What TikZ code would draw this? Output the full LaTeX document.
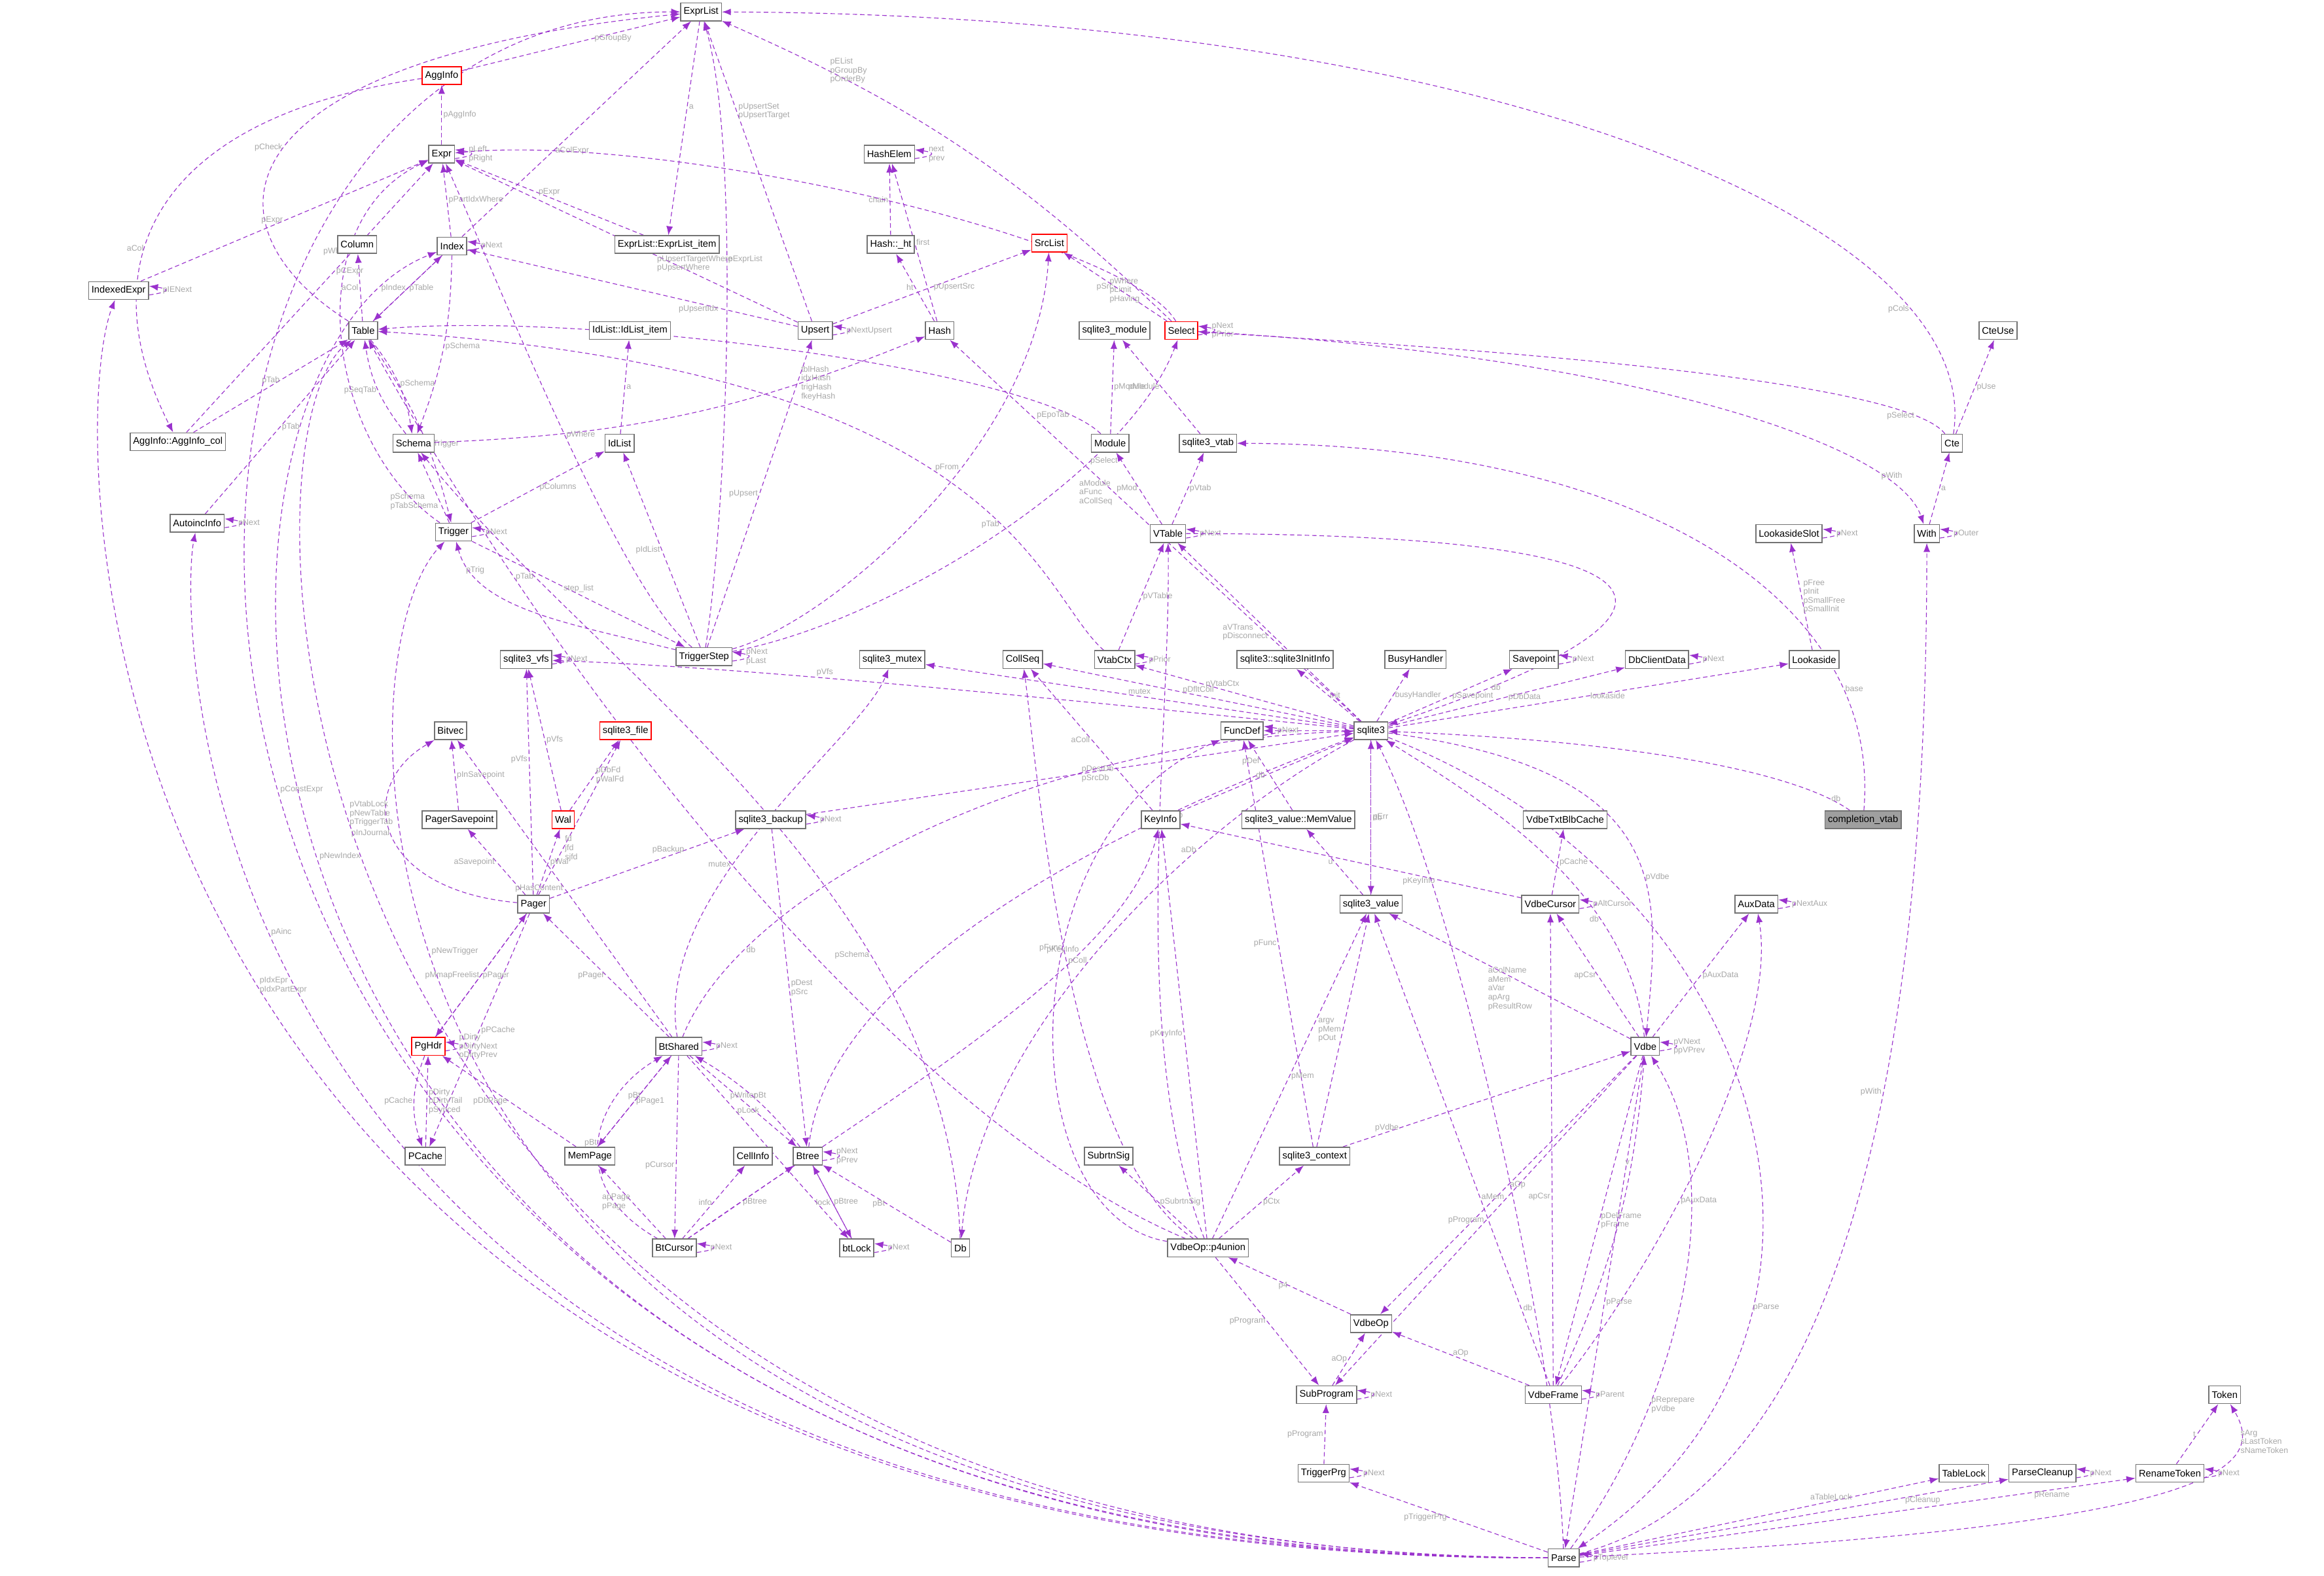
\documentclass[tikz,border=0pt]{standalone}
\usepackage{fontspec}
\setmainfont{Liberation Sans}
\usetikzlibrary{arrows.meta}
\pgfdeclarelayer{bg}
\pgfdeclarelayer{edges}
\pgfsetlayers{bg,edges,main}
\definecolor{ec}{HTML}{9A32CD}
\definecolor{lg}{HTML}{A8A8A8}
\tikzset{
 nd/.style={draw=gray!90!black,line width=0.7pt,fill=white,inner sep=2pt,minimum height=12pt,font=\fontsize{6.5}{7}\selectfont},
 rd/.style={nd,draw=red},
 e/.style={draw=ec,line width=0.5pt,dash pattern=on 3pt off 2pt,-{Latex[length=6pt,width=4.5pt]}},
 lbl/.style={text=lg,font=\fontsize{5.5}{6}\selectfont,align=left,inner sep=1pt},
}
\newcommand\sloop[2]{\draw[e] ([yshift=-3pt]#1.east) .. controls +(14,-2) and +(14,2) .. ([yshift=3pt]#1.east) node[lbl,right,xshift=8pt,yshift=-3pt]{#2};}
\begin{document}
\begin{tikzpicture}[x=1pt,y=-1pt]
\useasboundingbox (0,0) rectangle (1568,1063);
\begin{pgfonlayer}{bg}
\fill[white] (0,0) rectangle (1568,1063);
\end{pgfonlayer}
% nodes
\node[nd] (ExprList) at (473,8) {ExprList};
\node[rd] (AggInfo) at (298,51) {AggInfo};
\node[nd] (Expr) at (298,104) {Expr};
\node[nd] (HashElem) at (600,104) {HashElem};
\node[rd] (SrcList) at (708,164) {SrcList};
\node[nd] (Column) at (241,165) {Column};
\node[nd] (Index) at (305,166) {Index};
\node[nd] (ExprListItem) at (450,165) {ExprList::ExprList\_item};
\node[nd] (HashHt) at (601,165) {Hash::\_ht};
\node[nd] (IndexedExpr) at (80,196) {IndexedExpr};
\node[nd] (Table) at (245,223) {Table};
\node[nd] (IdListItem) at (425,223) {IdList::IdList\_item};
\node[nd] (Upsert) at (550,223) {Upsert};
\node[nd] (Hash) at (634,223) {Hash};
\node[nd] (Smodule) at (752,223) {sqlite3\_module};
\node[rd] (Select) at (797,223) {Select};
\node[nd] (CteUse) at (1348,223) {CteUse};
\node[nd] (AggCol) at (120,298) {AggInfo::AggInfo\_col};
\node[nd] (Schema) at (279,299) {Schema};
\node[nd] (IdList) at (418,299) {IdList};
\node[nd] (Module) at (749,299) {Module};
\node[nd] (Svtab) at (815,299) {sqlite3\_vtab};
\node[nd] (Cte) at (1317,299) {Cte};
\node[nd] (AutoincInfo) at (133,353) {AutoincInfo};
\node[nd] (Trigger) at (306,359) {Trigger};
\node[nd] (VTable) at (788,360) {VTable};
\node[nd] (With) at (1300,360) {With};
\node[nd] (LookasideSlot) at (1207,360) {LookasideSlot};
\node[nd] (TriggerStep) at (475,443) {TriggerStep};
\node[nd] (Svfs) at (355,445) {sqlite3\_vfs};
\node[nd] (Smutex) at (602,445) {sqlite3\_mutex};
\node[nd] (CollSeq) at (690,445) {CollSeq};
\node[nd] (VtabCtx) at (752,445) {VtabCtx};
\node[nd] (InitInfo) at (867,445) {sqlite3::sqlite3InitInfo};
\node[nd] (BusyHandler) at (955,445) {BusyHandler};
\node[nd] (Savepoint) at (1035,445) {Savepoint};
\node[nd] (DbClientData) at (1118,445) {DbClientData};
\node[nd] (Lookaside) at (1224,445) {Lookaside};
\node[nd] (Bitvec) at (304,493) {Bitvec};
\node[rd] (Sfile) at (422,493) {sqlite3\_file};
\node[nd] (FuncDef) at (838,493) {FuncDef};
\node[nd] (sqlite3) at (925,493) {sqlite3};
\node[nd] (Sbackup) at (520,553) {sqlite3\_backup};
\node[nd] (PagerSavepoint) at (310,553) {PagerSavepoint};
\node[rd] (Wal) at (380,553) {Wal};
\node[nd] (KeyInfo) at (783,553) {KeyInfo};
\node[nd] (MemValue) at (876,553) {sqlite3\_value::MemValue};
\node[nd] (TxtCache) at (1056,553) {VdbeTxtBlbCache};
\node[nd,fill=gray!75] (completion) at (1257,553) {completion\_vtab};
\node[nd] (Pager) at (360,610) {Pager};
\node[nd] (Svalue) at (925,610) {sqlite3\_value};
\node[nd] (VdbeCursor) at (1046,610) {VdbeCursor};
\node[nd] (AuxData) at (1185,610) {AuxData};
\node[rd] (PgHdr) at (289,706) {PgHdr};
\node[nd] (BtShared) at (458,706) {BtShared};
\node[nd] (Vdbe) at (1110,706) {Vdbe};
\node[nd] (PCache) at (287,780) {PCache};
\node[nd] (MemPage) at (398,780) {MemPage};
\node[nd] (CellInfo) at (508,780) {CellInfo};
\node[nd] (Btree) at (545,780) {Btree};
\node[nd] (SubrtnSig) at (748,780) {SubrtnSig};
\node[nd] (Scontext) at (887,780) {sqlite3\_context};
\node[nd] (BtCursor) at (455,842) {BtCursor};
\node[nd] (btLock) at (578,842) {btLock};
\node[nd] (Db) at (648,842) {Db};
\node[nd] (P4) at (815,842) {VdbeOp::p4union};
\node[nd] (VdbeOp) at (925,893) {VdbeOp};
\node[nd] (SubProgram) at (895,941) {SubProgram};
\node[nd] (VdbeFrame) at (1048,941) {VdbeFrame};
\node[nd] (Token) at (1501,941) {Token};
\node[nd] (TriggerPrg) at (893,994) {TriggerPrg};
\node[nd] (TableLock) at (1325,994) {TableLock};
\node[nd] (ParseCleanup) at (1378,994) {ParseCleanup};
\node[nd] (RenameToken) at (1464,994) {RenameToken};
\node[nd] (Parse) at (1055,1051) {Parse};
% edges
\begin{pgfonlayer}{edges}
\draw[e] (Select) to[bend right=10] node[lbl,pos=0.8,right]{pEList\\pGroupBy\\pOrderBy} (ExprList);
\draw[e] (AggInfo) -- node[lbl,pos=0.6,right]{pGroupBy} (ExprList);
\draw[e] (Expr) -- node[lbl,right]{pAggInfo} (AggInfo);
\sloop{Expr}{pLeft\\pRight}
\draw[e] (ExprList) -- node[lbl,right,pos=0.4]{a} (ExprListItem);
\draw[e] (ExprListItem) -- node[lbl,above]{pExpr} (Expr);
\draw[e] (Index) -- node[lbl,right,pos=0.4]{aColExpr} (ExprList);
\draw[e] (Index) -- node[lbl,right]{pPartIdxWhere} (Expr);
\sloop{Index}{pNext}
\draw[e] (Index) -- node[lbl,right]{pTable} (Table);
\draw[e] (Index) to[bend left=10] node[lbl,right]{pSchema} (Schema);
\draw[e] (Table) .. controls (130,150) and (150,40) .. node[lbl,left,pos=0.5]{pCheck} (ExprList);
\draw[e] (Table) -- node[lbl,left]{aCol} (Column);
\draw[e] (Table) -- node[lbl,left]{pIndex} (Index);
\draw[e] (Table) to[bend left=15] node[lbl,right]{pSchema} (Schema);
\draw[e] (Table) to[bend left=10] node[lbl,right,pos=0.6]{pTrigger} (Trigger);
\draw[e] (IndexedExpr) -- node[lbl,left]{pExpr} (Expr);
\sloop{IndexedExpr}{pIENext}
\draw[e] (AggInfo) .. controls (100,80) and (60,180) .. node[lbl,left,pos=0.6]{aCol} (AggCol);
\draw[e] (AggCol) -- node[lbl,right,pos=0.6]{pCExpr} (Expr);
\draw[e] (AggCol) -- node[lbl,above]{pTab} (Table);
\draw[e] (Schema) to[bend left=15] node[lbl,left]{pSeqTab} (Table);
\draw[e] (Schema) to[bend right=10] node[lbl,right,pos=0.75]{tblHash\\idxHash\\trigHash\\fkeyHash} (Hash);
\draw[e] (Upsert) -- node[lbl,right,pos=0.7]{pUpsertSet\\pUpsertTarget} (ExprList);
\draw[e] (Upsert) -- node[lbl,above,pos=0.3]{pUpsertTargetWhere\\pUpsertWhere} (Expr);
\draw[e] (Upsert) -- node[lbl,below,pos=0.3]{pUpsertIdx} (Index);
\sloop{Upsert}{pNextUpsert}
\draw[e] (Upsert) -- node[lbl,right]{pUpsertSrc} (SrcList);
\sloop{HashElem}{next\\prev}
\draw[e] (HashHt) -- node[lbl,left]{chain} (HashElem);
\draw[e] (Hash) -- node[lbl,right]{first} (HashElem);
\draw[e] (Hash) -- node[lbl,left]{ht} (HashHt);
\draw[e] (Select) .. controls (760,160) and (450,90) .. node[lbl,left,pos=0.12]{pWhere\\pLimit\\pHaving} (Expr);
\draw[e] (Select) -- node[lbl,left]{pSrc} (SrcList);
\sloop{Select}{pNext\\pPrior}
\draw[e] (Select) .. controls (1100,240) and (1280,300) .. node[lbl,right,pos=0.8]{pWith} (With);
\draw[e] (Cte) .. controls (1280,250) and (900,230) .. node[lbl,left,pos=0.1]{pSelect} (Select);
\draw[e] (Cte) .. controls (1340,150) and (1000,10) .. node[lbl,left,pos=0.2]{pCols} (ExprList);
\draw[e] (Cte) -- node[lbl,right]{pUse} (CteUse);
\draw[e] (With) -- node[lbl,right]{a} (Cte);
\sloop{With}{pOuter}
\draw[e] (Module) -- node[lbl,right]{pModule} (Smodule);
\draw[e] (Module) .. controls (700,250) and (400,210) .. node[lbl,left,pos=0.1]{pEpoTab} (Table);
\draw[e] (Svtab) -- node[lbl,left]{pModule} (Smodule);
\draw[e] (VTable) -- node[lbl,right]{pVtab} (Svtab);
\draw[e] (VTable) -- node[lbl,left]{pMod} (Module);
\sloop{VTable}{pNext}
\draw[e] (VTable) .. controls (1100,360) and (1200,400) .. node[lbl,right,pos=0.9]{db} (sqlite3);
\draw[e] (VtabCtx) -- node[lbl,right]{pVTable} (VTable);
\draw[e] (VtabCtx) .. controls (700,400) and (680,250) .. node[lbl,left,pos=0.4]{pTab} (Table);
\sloop{VtabCtx}{pPrior}
\sloop{Trigger}{pNext}
\draw[e] (Trigger) -- node[lbl,left,pos=0.3]{pSchema\\pTabSchema} (Schema);
\draw[e] (Trigger) -- node[lbl,right]{pColumns} (IdList);
\draw[e] (Trigger) .. controls (220,300) and (200,150) .. node[lbl,left,pos=0.7]{pWhen} (Expr);
\draw[e] (Trigger) -- node[lbl,above]{step\_list} (TriggerStep);
\draw[e] (TriggerStep) .. controls (380,420) and (320,410) .. node[lbl,above,pos=0.8]{pTrig} (Trigger);
\draw[e] (TriggerStep) -- node[lbl,left]{pIdList} (IdList);
\draw[e] (TriggerStep) -- node[lbl,left]{pUpsert} (Upsert);
\draw[e] (TriggerStep) .. controls (560,420) and (700,300) .. node[lbl,left,pos=0.6]{pFrom} (SrcList);
\draw[e] (TriggerStep) .. controls (600,420) and (760,320) .. node[lbl,right,pos=0.7]{pSelect} (Select);
\draw[e] (TriggerStep) .. controls (420,400) and (340,200) .. node[lbl,right,pos=0.5]{pWhere} (Expr);
\draw[e] (TriggerStep) .. controls (490,350) and (500,100) .. node[lbl,right,pos=0.6]{pExprList} (ExprList);
\sloop{TriggerStep}{pNext\\pLast}
\draw[e] (IdList) -- node[lbl,right]{a} (IdListItem);
\draw[e] (AutoincInfo) -- node[lbl,right]{pTab} (Table);
\sloop{AutoincInfo}{pNext}
\draw[e] (sqlite3) .. controls (700,470) and (500,450) .. node[lbl,above,pos=0.6]{pVfs} (Svfs);
\sloop{Svfs}{pNext}
\draw[e] (sqlite3) -- node[lbl,above,pos=0.5]{mutex} (Smutex);
\draw[e] (sqlite3) -- node[lbl,above,pos=0.5]{pDfltColl} (CollSeq);
\draw[e] (sqlite3) -- node[lbl,above,pos=0.6]{pVtabCtx} (VtabCtx);
\draw[e] (sqlite3) -- node[lbl,right]{init} (InitInfo);
\draw[e] (sqlite3) -- node[lbl,right]{busyHandler} (BusyHandler);
\draw[e] (sqlite3) -- node[lbl,right]{pSavepoint} (Savepoint);
\sloop{Savepoint}{pNext}
\draw[e] (sqlite3) -- node[lbl,right]{pDbData} (DbClientData);
\sloop{DbClientData}{pNext}
\draw[e] (sqlite3) -- node[lbl,right]{lookaside} (Lookaside);
\draw[e] (Lookaside) -- node[lbl,right]{pFree\\pInit\\pSmallFree\\pSmallInit} (LookasideSlot);
\sloop{LookasideSlot}{pNext}
\draw[e] (sqlite3) -- node[lbl,left,pos=0.6]{aModule\\aFunc\\aCollSeq} (Hash);
\draw[e] (sqlite3) -- node[lbl,left,pos=0.5]{aVTrans\\pDisconnect} (VTable);
\draw[e] (sqlite3) -- (FuncDef);
\sloop{FuncDef}{pNext}
\draw[e] (sqlite3) .. controls (1130,520) and (1120,600) .. node[lbl,right,pos=0.6]{pVdbe} (Vdbe);
\draw[e] (sqlite3) -- node[lbl,right]{pErr} (Svalue);
\draw[e] (sqlite3) .. controls (800,560) and (660,700) .. node[lbl,left,pos=0.3]{aDb} (Db);
\draw[e] (sqlite3) .. controls (1200,600) and (1280,900) .. node[lbl,right,pos=0.7]{pParse} (Parse);
\draw[e] (Db) -- node[lbl,left]{pBt} (Btree);
\draw[e] (Db) .. controls (640,600) and (400,450) .. node[lbl,left,pos=0.3]{pSchema} (Schema);
\draw[e] (completion) .. controls (1210,520) and (1100,500) .. node[lbl,right,pos=0.1]{db} (sqlite3);
\draw[e] (completion) .. controls (1270,400) and (1100,300) .. node[lbl,right,pos=0.2]{base} (Svtab);
\draw[e] (Pager) -- node[lbl,left,pos=0.6]{pVfs} (Svfs);
\draw[e] (Pager) -- node[lbl,right,pos=0.3]{fd\\jfd\\sjfd} (Sfile);
\draw[e] (Pager) -- node[lbl,right]{pWal} (Wal);
\draw[e] (Wal) -- node[lbl,right]{pVfs} (Svfs);
\draw[e] (Wal) -- node[lbl,right]{pDbFd\\pWalFd} (Sfile);
\draw[e] (Pager) .. controls (250,600) and (240,530) .. node[lbl,left]{pInJournal} (Bitvec);
\draw[e] (PagerSavepoint) -- node[lbl,right]{pInSavepoint} (Bitvec);
\draw[e] (Pager) -- node[lbl,left]{aSavepoint} (PagerSavepoint);
\draw[e] (Pager) -- node[lbl,left]{pMmapFreelist} (PgHdr);
\draw[e] (Pager) -- node[lbl,right]{pPCache} (PCache);
\draw[e] (Pager) -- node[lbl,left,pos=0.7]{pBackup} (Sbackup);
\draw[e] (PgHdr) -- node[lbl,right]{pPager} (Pager);
\sloop{PgHdr}{pDirty\\pDirtyNext\\pDirtyPrev}
\draw[e] (PgHdr) to[bend right=20] node[lbl,left]{pCache} (PCache);
\draw[e] (PCache) -- node[lbl,right]{pDirty\\pDirtyTail\\pSynced} (PgHdr);
\draw[e] (Sbackup) -- node[lbl,right,pos=0.5]{pDestDb\\pSrcDb} (sqlite3);
\sloop{Sbackup}{pNext}
\draw[e] (Sbackup) -- node[lbl,right]{pDest\\pSrc} (Btree);
\draw[e] (BtShared) -- node[lbl,left]{pPager} (Pager);
\draw[e] (BtShared) .. controls (500,600) and (700,500) .. node[lbl,right,pos=0.2]{db} (sqlite3);
\draw[e] (BtShared) -- node[lbl,left]{pHasContent} (Bitvec);
\draw[e] (BtShared) .. controls (440,600) and (580,500) .. node[lbl,left,pos=0.4]{mutex} (Smutex);
\sloop{BtShared}{pNext}
\draw[e] (BtShared) -- node[lbl,right]{pPage1} (MemPage);
\draw[e] (BtShared) -- node[lbl,left,pos=0.6]{pCursor} (BtCursor);
\draw[e] (BtShared) -- node[lbl,above]{pWriter} (Btree);
\draw[e] (BtShared) -- node[lbl,right,pos=0.3]{pLock} (btLock);
\draw[e] (MemPage) -- node[lbl,above]{pBt} (BtShared);
\draw[e] (MemPage) -- node[lbl,left]{pDbPage} (PgHdr);
\draw[e] (Btree) to[bend right=10] node[lbl,right]{pBt} (BtShared);
\draw[e] (Btree) .. controls (560,640) and (800,540) .. (sqlite3);
\sloop{Btree}{pNext\\pPrev}
\draw[e] (Btree) -- node[lbl,left]{lock} (btLock);
\draw[e] (btLock) -- node[lbl,right]{pBtree} (Btree);
\sloop{btLock}{pNext}
\draw[e] (BtCursor) -- node[lbl,right]{pBtree} (Btree);
\draw[e] (BtCursor) .. controls (380,800) and (400,740) .. node[lbl,left]{pBt} (BtShared);
\draw[e] (BtCursor) -- node[lbl,left]{apPage\\pPage} (MemPage);
\draw[e] (BtCursor) -- node[lbl,left]{info} (CellInfo);
\draw[e] (BtCursor) .. controls (600,740) and (760,650) .. node[lbl,left,pos=0.7]{pKeyInfo} (KeyInfo);
\sloop{BtCursor}{pNext}
\draw[e] (KeyInfo) -- node[lbl,left]{db} (sqlite3);
\draw[e] (KeyInfo) -- node[lbl,left]{aColl} (CollSeq);
\draw[e] (Svalue) -- node[lbl,right]{db} (sqlite3);
\draw[e] (Svalue) -- node[lbl,left]{u} (MemValue);
\draw[e] (MemValue) -- node[lbl,left,pos=0.7]{pDef} (FuncDef);
\draw[e] (VdbeCursor) -- node[lbl,below,pos=0.3]{pKeyInfo} (KeyInfo);
\draw[e] (VdbeCursor) -- node[lbl,right]{pCache} (TxtCache);
\sloop{VdbeCursor}{pAltCursor}
\sloop{AuxData}{pNextAux}
\draw[e] (Vdbe) .. controls (1100,600) and (1000,540) .. node[lbl,left,pos=0.3]{db} (sqlite3);
\draw[e] (Vdbe) -- node[lbl,left,pos=0.4]{aColName\\aMem\\aVar\\apArg\\pResultRow} (Svalue);
\draw[e] (Vdbe) -- node[lbl,left]{apCsr} (VdbeCursor);
\draw[e] (Vdbe) -- node[lbl,right]{pAuxData} (AuxData);
\sloop{Vdbe}{pVNext\\ppVPrev}
\draw[e] (Vdbe) -- node[lbl,right]{aOp} (VdbeOp);
\draw[e] (Vdbe) -- node[lbl,right]{pDelFrame\\pFrame} (VdbeFrame);
\draw[e] (Vdbe) -- node[lbl,left,pos=0.5]{pProgram} (SubProgram);
\draw[e] (Vdbe) -- node[lbl,right]{pParse} (Parse);
\draw[e] (Scontext) -- node[lbl,left]{argv\\pMem\\pOut} (Svalue);
\draw[e] (Scontext) -- node[lbl,left,pos=0.2]{pVdbe} (Vdbe);
\draw[e] (Scontext) -- node[lbl,left]{pFunc} (FuncDef);
\draw[e] (P4) .. controls (680,820) and (680,560) .. node[lbl,left,pos=0.6]{pFunc} (FuncDef);
\draw[e] (P4) .. controls (720,780) and (700,520) .. node[lbl,right,pos=0.5]{pColl} (CollSeq);
\draw[e] (P4) -- node[lbl,left]{pKeyInfo} (KeyInfo);
\draw[e] (P4) -- node[lbl,right]{pMem} (Svalue);
\draw[e] (P4) .. controls (760,700) and (790,500) .. node[lbl,right,pos=0.6]{pVtab} (VTable);
\draw[e] (P4) .. controls (620,760) and (400,500) .. node[lbl,right,pos=0.8]{pTab} (Table);
\draw[e] (P4) -- node[lbl,right]{pCtx} (Scontext);
\draw[e] (P4) -- node[lbl,right]{pSubrtnSig} (SubrtnSig);
\draw[e] (P4) -- node[lbl,left]{pProgram} (SubProgram);
\draw[e] (VdbeOp) -- node[lbl,left]{p4} (P4);
\draw[e] (SubProgram) -- node[lbl,left]{aOp} (VdbeOp);
\sloop{SubProgram}{pNext}
\draw[e] (VdbeFrame) to[bend right=10] node[lbl,left,pos=0.7]{v} (Vdbe);
\draw[e] (VdbeFrame) -- node[lbl,above]{aOp} (VdbeOp);
\draw[e] (VdbeFrame) -- node[lbl,right,pos=0.4]{aMem} (Svalue);
\draw[e] (VdbeFrame) -- node[lbl,left,pos=0.4]{apCsr} (VdbeCursor);
\draw[e] (VdbeFrame) .. controls (1120,850) and (1200,700) .. node[lbl,right,pos=0.4]{pAuxData} (AuxData);
\sloop{VdbeFrame}{pParent}
\draw[e] (TriggerPrg) -- node[lbl,left]{pProgram} (SubProgram);
\sloop{TriggerPrg}{pNext}
\draw[e] (Parse) -- node[lbl,left]{pTriggerPrg} (TriggerPrg);
\sloop{Parse}{pToplevel}
\draw[e] (Parse) -- node[lbl,above,pos=0.7]{aTableLock} (TableLock);
\draw[e] (Parse) -- node[lbl,below,pos=0.8]{pCleanup} (ParseCleanup);
\sloop{ParseCleanup}{pNext}
\draw[e] (Parse) -- node[lbl,below,pos=0.85]{pRename} (RenameToken);
\draw[e] (RenameToken) -- node[lbl,left]{t} (Token);
\sloop{RenameToken}{pNext}
\draw[e] (Parse) .. controls (1500,1030) and (1530,990) .. node[lbl,right,pos=0.8]{sArg\\sLastToken\\sNameToken} (Token);
\draw[e] (Parse) .. controls (1250,1000) and (1300,700) .. node[lbl,left,pos=0.6]{pWith} (With);
\draw[e] (Parse) .. controls (1050,900) and (980,600) .. node[lbl,left,pos=0.3]{db} (sqlite3);
\draw[e] (Parse) .. controls (1130,950) and (1170,800) .. node[lbl,right,pos=0.3]{pReprepare\\pVdbe} (Vdbe);
\draw[e] (Parse.west) .. controls (0,1060) and (0,8) .. node[lbl,right,pos=0.5]{pConstExpr} (ExprList.west);
\draw[e] (Parse.west) .. controls (50,1055) and (40,300) .. node[lbl,right,pos=0.5]{pIdxEpr\\pIdxPartExpr} (IndexedExpr);
\draw[e] (Parse.west) .. controls (180,1050) and (150,300) .. node[lbl,right,pos=0.6]{pVtabLock\\pNewTable\\pTriggerTab} (Table);
\draw[e] (Parse.west) .. controls (100,1052) and (90,250) .. node[lbl,right,pos=0.55]{pNewIndex} (Index);
\draw[e] (Parse.west) .. controls (220,1045) and (220,450) .. node[lbl,right,pos=0.6]{pNewTrigger} (Trigger);
\draw[e] (Parse.west) .. controls (120,1050) and (120,420) .. node[lbl,right,pos=0.6]{pAinc} (AutoincInfo);
\end{pgfonlayer}
\end{tikzpicture}
\end{document}
